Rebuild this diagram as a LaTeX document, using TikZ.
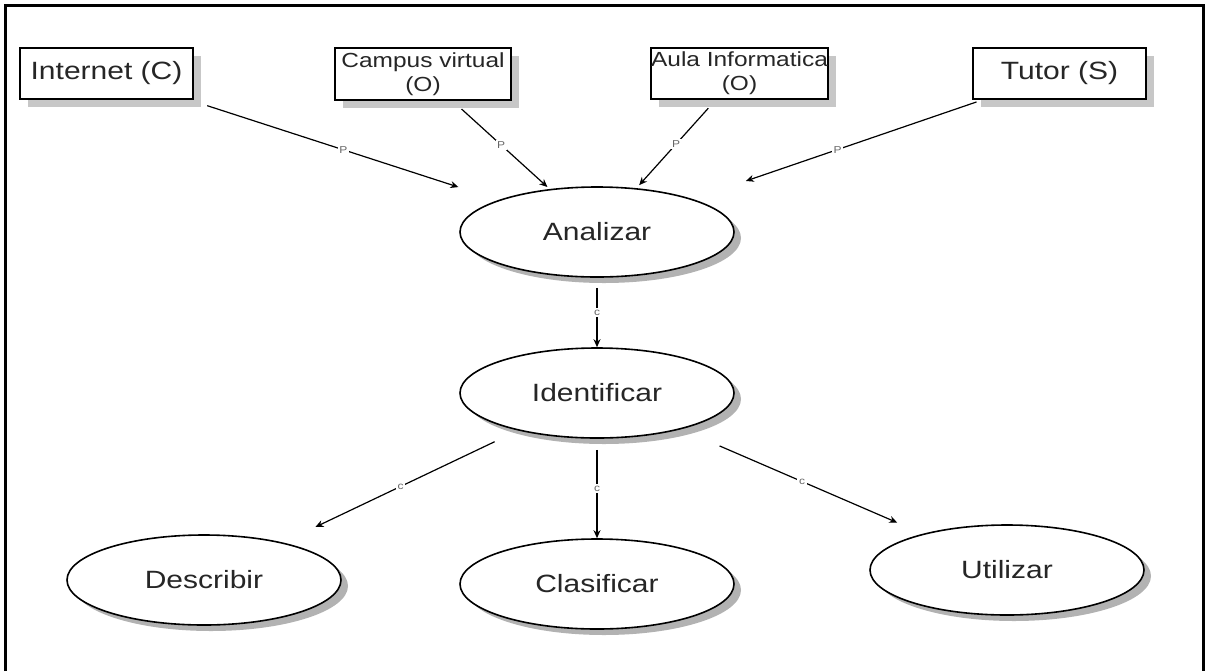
\documentclass[tikz,border=0pt]{standalone}
\usepackage{fontspec}
\setmainfont[FakeStretch=1.2]{Liberation Sans}
\usetikzlibrary{shapes.geometric,shadows,arrows.meta}
\begin{document}
\begin{tikzpicture}[x=0.5pt,y=-0.5pt,
  box/.style={draw=black,line width=1pt,fill=white,rectangle,inner sep=0pt,
    minimum width=86.5pt,minimum height=25.5pt,align=center,text=black!85,
    drop shadow={shadow xshift=4pt,shadow yshift=-4pt,fill=black!22,opacity=1}},
  bigtext/.style={font=\fontsize{12.5}{15}\selectfont},
  smalltext/.style={font=\fontsize{10.2}{12}\selectfont},
  act/.style={draw=black,line width=0.8pt,fill=white,ellipse,inner sep=0pt,
    minimum width=137pt,minimum height=45pt,text=black!85,
    font=\fontsize{12.5}{15}\selectfont,
    drop shadow={shadow xshift=3.5pt,shadow yshift=-3pt,fill=black!30,opacity=1}},
  link/.style={draw=black,line width=0.6pt,-{Stealth[length=4pt,width=3.5pt]}},
  tag/.style={fill=white,inner sep=0.8pt,text=black!60,
    font=\fontsize{5}{5}\selectfont}
]
\useasboundingbox (0,0) rectangle (1207,671);

% outer frame, open at the bottom
\draw[line width=1.5pt] (5,671) -- (5,5) -- (1203,5) -- (1203,671);

% resources
\node[box,bigtext] (inet) at (106.5,73) {Internet (C)};
\node[box,smalltext,minimum width=88pt,minimum height=26pt] (campus) at (423,74) {Campus virtual\\(O)};
\node[box,smalltext] (aula) at (739.5,73.5) {Aula Informatica\\(O)};
\node[box,bigtext] (tutor) at (1059.5,73.5) {Tutor (S)};

% activities
\node[act] (ana) at (597,232) {Analizar};
\node[act] (ident) at (597,393) {Identificar};
\node[act] (desc) at (204,580) {Describir};
\node[act] (clas) at (597,584) {Clasificar};
\node[act] (util) at (1007,570) {Utilizar};

% resources feeding the first activity
\draw[link,shorten <=10pt,shorten >=21pt] (inet) -- node[tag]{P} (ana);
\draw[link,shorten <=6pt,shorten >=1.5pt] (campus) -- node[tag]{P} (ana);
\draw[link,shorten <=5.5pt,shorten >=2pt] (aula) -- node[tag]{P} (ana);
\draw[link,shorten <=3pt,shorten >=28pt] (tutor) -- node[tag]{P} (ana);

% activity sequence
\draw[link,shorten <=5pt] (ana) -- node[tag]{c} (ident);
\draw[link,shorten <=13pt,shorten >=18pt] (ident) -- node[tag]{c} (desc);
\draw[link,shorten <=5.5pt] (ident) -- node[tag]{c} (clas);
\draw[link,shorten <=21pt,shorten >=14pt] (ident) -- node[tag]{c} (util);
\end{tikzpicture}
\end{document}
